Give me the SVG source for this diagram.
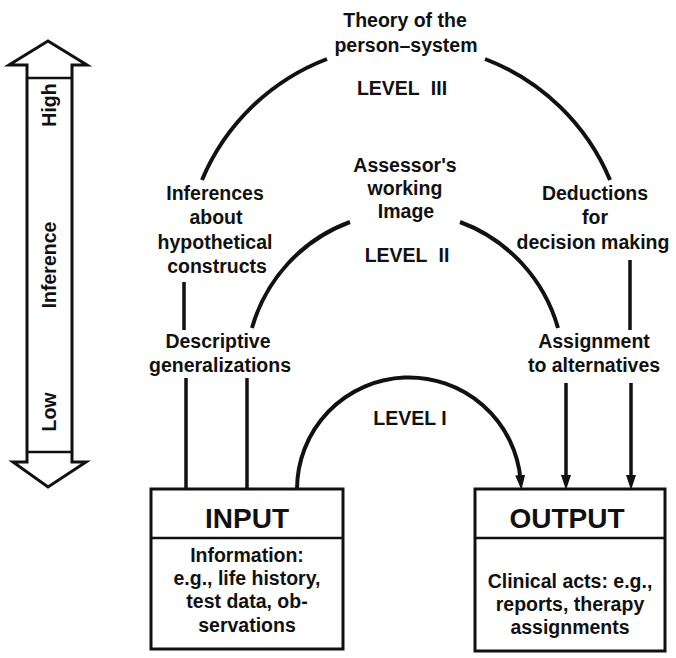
<svg xmlns="http://www.w3.org/2000/svg" width="676" height="658" viewBox="0 0 676 658">
  <style>
    .t { font-family: "Liberation Sans", Arial, sans-serif; font-weight: bold; font-size: 19.5px; fill: #111; text-anchor: middle; }
    .big { font-size: 28px; }
    .ln { fill: none; stroke: #111; stroke-width: 3.5; }
    .arc { fill: none; stroke: #111; stroke-width: 4; }
    .box { fill: #fff; stroke: #111; stroke-width: 3; }
  </style>
  <defs>
    <marker id="head" viewBox="0 0 15 10" refX="5" refY="5" markerWidth="15" markerHeight="10" markerUnits="userSpaceOnUse" orient="auto">
      <path d="M0,0 L15,5 L0,10 Z" fill="#111"/>
    </marker>
  </defs>
  <rect width="676" height="658" fill="#fff"/>

  <!-- Inference scale: double-headed hollow arrow -->
  <g id="inference-scale">
    <path d="M48,41 L9,65 L27,65 L27,462 L13,462 L48,487 L86,462 L72,462 L72,65 L87,65 Z" fill="#fff" stroke="#111" stroke-width="3" stroke-linejoin="miter"/>
    <line x1="27" y1="78" x2="72" y2="78" stroke="#111" stroke-width="2.5"/>
    <line x1="27" y1="452" x2="72" y2="452" stroke="#111" stroke-width="2.5"/>
    <text class="t" transform="translate(56,105) rotate(-90)">High</text>
    <text class="t" transform="translate(56,265) rotate(-90)">Inference</text>
    <text class="t" transform="translate(56,412) rotate(-90)">Low</text>
  </g>

  <!-- Level III -->
  <g id="theory">
    <text class="t" x="405" y="27">Theory of the</text>
    <text class="t" x="406" y="52">person–system</text>
    <text class="t" x="402" y="95" word-spacing="6">LEVEL III</text>
  </g>

  <g id="inferences">
    <text class="t" x="215" y="200">Inferences</text>
    <text class="t" x="216" y="224">about</text>
    <text class="t" x="215" y="249">hypothetical</text>
    <text class="t" x="217" y="273">constructs</text>
  </g>

  <g id="deductions">
    <text class="t" x="595" y="200">Deductions</text>
    <text class="t" x="595" y="224">for</text>
    <text class="t" x="593" y="249">decision making</text>
  </g>

  <!-- Level II -->
  <g id="working-image">
    <text class="t" x="405" y="172">Assessor's</text>
    <text class="t" x="405" y="195">working</text>
    <text class="t" x="406" y="218">Image</text>
    <text class="t" x="407" y="262" word-spacing="6">LEVEL II</text>
  </g>

  <g id="descriptive">
    <text class="t" x="218" y="348">Descriptive</text>
    <text class="t" x="220" y="372">generalizations</text>
  </g>

  <g id="assignment">
    <text class="t" x="594" y="348">Assignment</text>
    <text class="t" x="594" y="372">to alternatives</text>
  </g>

  <!-- Level I -->
  <g id="level-one">
    <text class="t" x="410" y="425">LEVEL I</text>
  </g>

  <!-- Input / output boxes -->
  <g id="input">
    <rect class="box" x="151" y="489" width="192" height="160"/>
    <line x1="151" y1="538" x2="343" y2="538" stroke="#111" stroke-width="2.5"/>
    <text class="t big" x="247" y="528">INPUT</text>
    <text class="t" x="247" y="562">Information:</text>
    <text class="t" x="247" y="585">e.g., life history,</text>
    <text class="t" x="247" y="608">test data, ob-</text>
    <text class="t" x="247" y="632">servations</text>
  </g>

  <g id="output">
    <rect class="box" x="475" y="489" width="190" height="162"/>
    <line x1="475" y1="538" x2="665" y2="538" stroke="#111" stroke-width="2.5"/>
    <text class="t big" x="567" y="528">OUTPUT</text>
    <text class="t" x="570" y="588">Clinical acts: e.g.,</text>
    <text class="t" x="570" y="611">reports, therapy</text>
    <text class="t" x="570" y="634">assignments</text>
  </g>

  <!-- Connectors -->
  <g id="connectors">
    <!-- Level III arc -->
    <path class="arc" d="M202,180 A221,221 0 0 1 327,59"/>
    <path class="arc" d="M485,59 A221,221 0 0 1 610,180"/>
    <!-- Level II arc -->
    <path class="arc" d="M252,328 A159,159 0 0 1 350,222"/>
    <path class="arc" d="M460,222 A159,159 0 0 1 558,328"/>
    <!-- Level I arc -->
    <path class="arc" d="M297,489 A112,112 0 0 1 520.6,480" marker-end="url(#head)"/>
    <!-- verticals -->
    <line class="ln" x1="184" y1="282" x2="184" y2="330"/>
    <line class="ln" x1="630" y1="260" x2="630" y2="330"/>
    <line class="ln" x1="186" y1="378" x2="186" y2="489"/>
    <line class="ln" x1="247" y1="378" x2="247" y2="489"/>
    <line class="ln" x1="566" y1="383" x2="566" y2="480" marker-end="url(#head)"/>
    <line class="ln" x1="631" y1="383" x2="631" y2="480" marker-end="url(#head)"/>
  </g>
</svg>
